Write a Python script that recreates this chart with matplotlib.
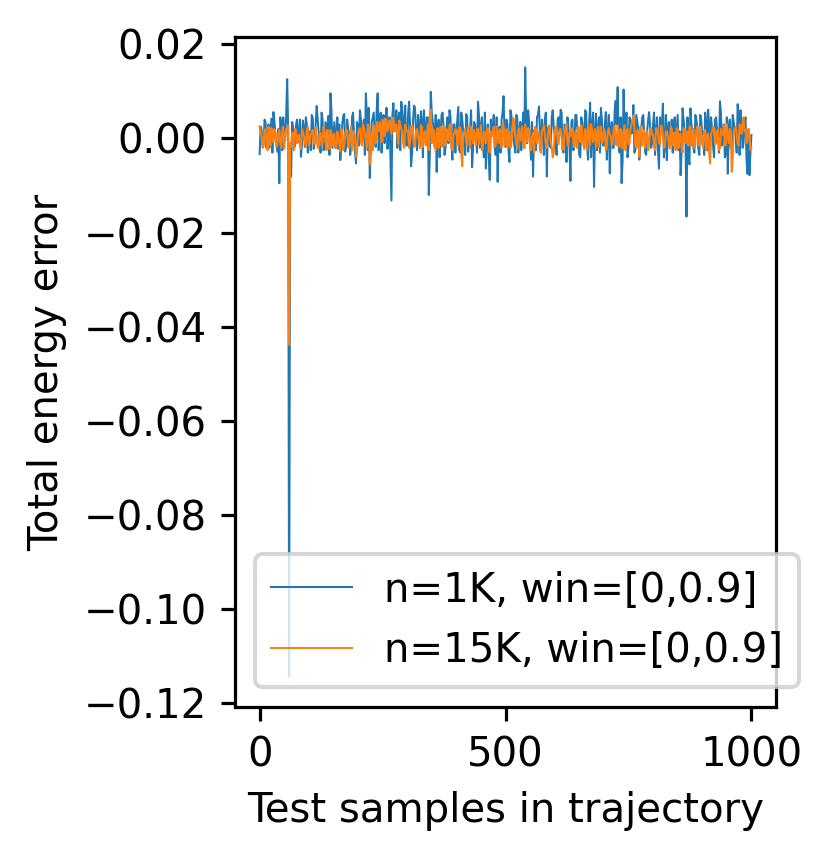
import numpy as np
import matplotlib
matplotlib.use("Agg")
import matplotlib.pyplot as plt

# energy error per test sample, units of 1e-4
# *_even: samples 0, 4, 8, ... 1000 ; *_odd: samples 2, 6, 10, ... 998
err_1k_even = [
    -33, 18, -12, 35, 8, -20, 42, 56, 10, -28,
    -95, 30, 45, -5, 126, -1143, -81, 25, -15, 40,
    12, -39, 38, -18, 30, 5, -25, 44, -8, 69,
    15, -30, 40, -12, 25, 48, 96, -20, 35, 10,
    -22, -46, 30, 52, -15, 20, -35, 45, 8, -53,
    25, 60, -10, 40, 96, -25, -84, 35, 55, -18,
    96, 20, -30, 50, 12, -22, 45, -132, 75, 28,
    -20, 55, 78, 10, 70, -15, 78, -59, 40, 65,
    -25, 30, 58, -40, 20, 45, -120, 99, 35, -18,
    -71, 40, 15, 55, -35, 25, -10, 48, -45, 30,
    12, 67, -30, 40, -15, 52, -28, 18, -61, 35,
    10, 78, -20, 45, -40, -64, 30, -88, 20, 50,
    -35, -92, 25, 40, 90, -18, 30, -50, 48, 5,
    -30, 42, 15, -25, 55, 151, -10, 35, -45, -81,
    20, 45, 68, -30, 15, 40, -81, 25, -20, 60,
    10, -35, 45, 61, -25, 30, -50, 20, -90, 40,
    -15, 50, 10, -40, 35, -20, 55, -45, 76, 25,
    -103, 53, 20, -30, 40, -15, 56, 10, -74, 35,
    -20, 80, 109, -30, -95, 104, 20, -40, 45, 10,
    71, -25, 35, -45, 20, 50, -30, 15, 56, -20,
    30, -35, 45, -64, 20, 74, -15, -46, 35, 10,
    -30, 45, 15, -25, -78, 64, 20, -166, -40, 64,
    15, -30, 40, -20, 50, 10, -35, 30, 61, -25,
    20, -40, 45, 5, 79, -15, 30, -30, -75, 40,
    -20, 35, 10, 73, -35, 25, -10, 45, -75, -78,
    7,
]
err_1k_odd = [
    25, -15, 40, -20, 30, 12, -30, 38, -10, 20,
    45, -25, 10, 50, 20, -30, 35, -20, 28, -8,
    40, -15, 22, 45, -30, 15, 50, -22, 30, 40,
    -10, 55, -25, 35, 15, -35, 60, 8, -20, 45,
    30, -15, 48, -28, 40, 10, -20, 55, -30, 35,
    -15, 40, 25, -35, 50, 65, -20, 45, 10, 60,
    -25, 55, 30, -10, 65, 20, -40, 50, 15, 60,
    45, -25, 60, 30, -15, 55, 25, -30, 70, 10,
    50, -20, 35, 60, -10, 45, -35, 55, 20, 50,
    15, -40, 50, 25, -20, 45, 60, -15, 30, -30,
    40, -25, 55, 15, -35, 45, 20, 60, -20, 30,
    -30, 50, 25, -15, 55, 10, -45, 40, 15, -20,
    45, 20, -30, 55, 10, 40, -25, 60, 20, -15,
    50, -30, 35, 20, -20, 45, 60, -10, 35, 15,
    -25, 50, 10, 40, -35, 55, 20, -15, 45, 25,
    -20, 40, 15, 55, -30, 25, 45, -10, 35, -25,
    50, 20, -35, 45, 10, 60, -20, 30, -40, 55,
    15, -25, 45, 65, -15, 30, -45, 50, 20, -20,
    60, 30, -15, 45, -50, 25, 55, -20, 40, 15,
    -30, 50, 20, -15, 45, 10, -35, 40, 25, -10,
    55, 15, -25, 45, 30, -40, 50, 20, -15, 40,
    25, -20, 50, 15, -30, 40, -10, 45, -55, 30,
    -20, 50, 25, -35, 40, 15, 55, -25, 30, 45,
    -15, 40, 20, -30, 55, 10, -40, 45, 25, -20,
    50, 15, -30, 45, 60, -20, 35, -45, 20, -30,
]
err_15k_even = [
    26, 5, -15, 20, -25, 10, 22, -8, 15, -12,
    18, -20, 25, 5, 15, -438, -18, 12, 20, -10,
    8, -22, 15, -5, 20, -15, 10, 18, -12, 5,
    -20, 12, -8, 15, -25, 5, 18, -15, 10, -20,
    5, -28, 12, -10, 20, -18, 8, -25, 15, -39,
    10, 22, -15, 25, -5, 30, -55, 15, 28, -10,
    20, 35, -8, 30, 42, 15, 38, 10, 45, 25,
    5, 38, 20, -10, 30, 15, -20, 25, 10, -15,
    20, -5, 28, -18, 15, 5, -25, 61, 20, -10,
    15, -20, 25, 8, -15, 20, -5, 30, -25, 10,
    18, -12, 22, -59, 15, -8, 25, -20, 10, 18,
    -15, 20, 5, -25, 15, -10, 22, -30, 8, 25,
    -15, 10, 20, -20, 28, 5, -18, 15, -10, 43,
    10, -20, 22, 5, -15, 30, -8, 18, -25, 12,
    25, -10, 15, -30, 20, 8, -20, 28, -5, -40,
    15, 25, -12, 20, -25, 10, 30, -15, 5, 22,
    -18, 12, 25, -8, 18, -22, 10, 30, -15, 20,
    5, -20, 25, 12, -10, 20, -25, 15, 8, -15,
    22, -5, 28, -18, 10, 15, -25, 20, -10, 30,
    49, -15, 18, -39, 25, 10, -20, 15, -12, 22,
    8, -25, 20, -10, 28, 5, -18, 15, -8, 25,
    -15, 12, 22, -20, 10, -30, 18, 5, -15, 25,
    10, -20, 18, -8, 25, -12, 15, -25, 10, -53,
    15, 22, -10, 18, -20, 12, 28, -15, 5, 20,
    -71, 15, 25, -12, 30, 10, 45, 20, -5, 8,
    -20,
]
err_15k_odd = [
    12, -20, 18, -5, 25, -15, 8, 20, -18, 10,
    -10, 15, -22, 20, 28, -10, 12, -25, 18, 5,
    -15, 20, 5, -18, 25, -10, 15, -5, 22, -20,
    10, -15, 25, -8, 18, -22, 12, 5, -20, 15,
    -12, 20, -25, 8, 15, -20, 25, -10, 5, -30,
    18, -8, 30, 12, -20, 25, 5, -25, 20, 35,
    15, 28, 40, 5, 25, 35, 20, 42, 15, 30,
    -12, 25, 15, -20, 20, 10, -5, 28, -18, 15,
    8, -20, 25, 10, -15, 30, 45, -10, 18, -25,
    22, 5, -18, 25, -10, 15, 28, -20, 10, 20,
    -15, 25, -30, 5, 20, -15, 12, 25, -10, 5,
    20, -12, 28, -20, 10, 18, -25, 15, 5, -18,
    25, -10, 15, 30, -15, 20, 8, -20, 25, 30,
    -12, 18, -5, 25, -20, 10, 22, -15, 5, -30,
    20, 10, -25, 15, 28, -12, 5, 20, -20, -30,
    25, -10, 18, 5, -20, 25, -15, 12, 20, -10,
    15, -20, 10, 28, -12, 20, -25, 15, 30, -8,
    20, 10, -18, 25, -5, 15, -20, 22, 5, -10,
    25, -15, 12, 20, -22, 28, 5, -12, 18, 35,
    20, -20, 5, 25, -15, 18, 10, -25, 20, 8,
    -18, 22, 10, -12, 25, -20, 15, 5, -22, 20,
    12, -25, 18, 8, -20, 22, -10, 15, 25, -15,
    20, -10, 25, -15, 12, -20, 18, 5, -30, 10,
    25, -12, 15, -25, 20, 8, -15, 30, -10, 15,
    -40, 20, 10, -15, 25, 35, 15, -10, 20, -25,
]
labels = ["n=1K, win=[0,0.9]", "n=15K, win=[0,0.9]"]


def merge(even, odd):
    out = np.empty(len(even) + len(odd))
    out[0::2] = even
    out[1::2] = odd
    return out * 1e-4


e1 = merge(err_1k_even, err_1k_odd)
e2 = merge(err_15k_even, err_15k_odd)
samples = np.arange(len(e1)) * 2

dpi = 290
fig = plt.figure(figsize=(832 / dpi, 859 / dpi), dpi=dpi)
ax = fig.add_axes([0.2825, 0.177, 0.6502, 0.780])
ax.plot(samples, e1, lw=0.5, label=labels[0])
ax.plot(samples, e2, lw=0.5, label=labels[1])
ax.set_xticks([0, 500, 1000])
ax.set_xlabel("Test samples in trajectory")
ax.set_ylabel("Total energy error")
ax.legend(loc="lower left")
fig.savefig("out.png", dpi=dpi)
plt.close()
